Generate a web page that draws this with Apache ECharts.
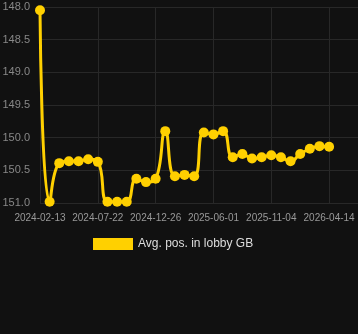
<!DOCTYPE html>
<html>
<head>
<meta charset="utf-8">
<script src="https://cdn.jsdelivr.net/npm/echarts@6/dist/echarts.min.js"></script>
<style>
html, body { margin: 0; padding: 0; background: #111111; }
#chart { width: 358px; height: 334px; }
</style>
</head>
<body>
<div id="chart"></div>
<script>
var dates = ['2024-02-13', '2024-03-11', '2024-04-07', '2024-05-04', '2024-05-31', '2024-06-26',
	'2024-07-22', '2024-08-17', '2024-09-12', '2024-10-08', '2024-11-04', '2024-11-30',
	'2024-12-26', '2025-01-21', '2025-02-16', '2025-03-14', '2025-04-09', '2025-05-06',
	'2025-06-01', '2025-06-27', '2025-07-23', '2025-08-18', '2025-09-13', '2025-10-09',
	'2025-11-04', '2025-11-30', '2025-12-27', '2026-01-22', '2026-02-17', '2026-03-16',
	'2026-04-14'];
var avgPos = [148.05, 150.98, 150.39, 150.36, 150.36, 150.33,
	150.37, 150.98, 150.98, 150.98, 150.63, 150.68,
	150.63, 149.9, 150.59, 150.57, 150.59, 149.92,
	149.95, 149.9, 150.3, 150.25, 150.32, 150.3,
	150.27, 150.3, 150.36, 150.25, 150.17, 150.13,
	150.14];

var myChart = echarts.init(document.getElementById('chart'));
var option = {
	backgroundColor : '#111111',
	textStyle : { fontFamily : 'Liberation Sans, Arial, sans-serif' },
	grid : {
		left : 40,
		right : 0,
		top : 7,
		bottom : 131,
		containLabel : false,
		outerBoundsMode : 'none'
	},
	legend : {
		left : 88,
		bottom : 79,
		itemWidth : 40,
		itemHeight : 12,
		icon : 'rect',
		textStyle : {
			color : '#dddddd',
			fontSize : 12
		},
		data : [ 'Avg. pos. in lobby GB' ]
	},
	xAxis : {
		type : 'category',
		boundaryGap : false,
		data : dates,
		max : 33,
		axisLine : { show : false },
		axisTick : { show : false },
		axisLabel : {
			interval : 5,
			color : '#999999',
			fontSize : 10,
			margin : 10
		},
		splitLine : {
			show : true,
			interval : 5,
			lineStyle : { color : '#282828' }
		}
	},
	yAxis : {
		type : 'value',
		inverse : true,
		min : 148,
		max : 151,
		interval : 0.5,
		axisLine : { show : false },
		axisTick : { show : false },
		axisLabel : {
			color : '#888888',
			fontSize : 11,
			margin : 10,
			formatter : function(v) { return v.toFixed(1); }
		},
		splitLine : {
			lineStyle : { color : '#282828' }
		}
	},
	series : [ {
		name : 'Avg. pos. in lobby GB',
		type : 'line',
		smooth : true,
		data : avgPos,
		symbol : 'circle',
		symbolSize : 10,
		showAllSymbol : true,
		itemStyle : { color : '#ffd000' },
		lineStyle : { color : '#ffd000', width : 3 }
	} ]
};
myChart.setOption(option);
</script>
</body>
</html>
